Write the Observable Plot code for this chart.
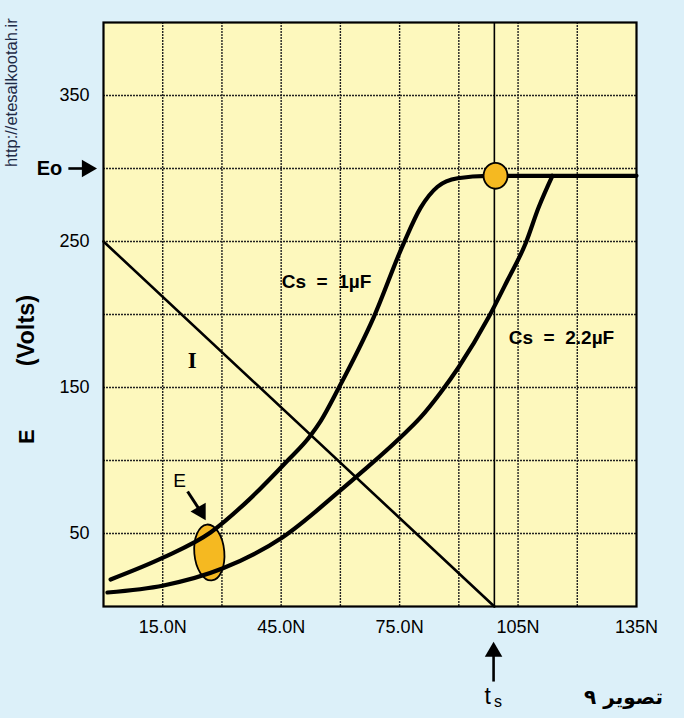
<!DOCTYPE html>
<html><head><meta charset="utf-8">
<script src="https://cdn.jsdelivr.net/npm/d3@7"></script>
<script src="https://cdn.jsdelivr.net/npm/@observablehq/plot@0.6"></script>
<style>
html,body{margin:0;padding:0;background:#dcf0f9;}
#chart svg{display:block;overflow:visible;}
</style></head><body><div id="chart"></div>
<script>
// ---- data ----
const xTicks = [15, 45, 75, 105, 135];
const xTickLabels = ["15.0N", "45.0N", "75.0N", "105N", "135N"];
const yTicks = [50, 150, 250, 350];
const xGrid = [15, 30, 45, 60, 75, 90, 105, 120];
const yGrid = [50, 100, 150, 200, 250, 300, 350];
const ts = 99;
const eo = 295;
const cs1X = [1.8, 15.2, 27.1, 36, 46.1, 52.4, 55, 59.5, 68.4, 76, 80.3, 84.6, 89.7, 97.3, 110, 135];
const cs1Y = [18.5, 33.6, 50.7, 71, 98.5, 117, 127, 149.3, 197.9, 248.6, 273, 287.5, 293.3, 295, 295, 295];
const cs2X = [1, 15.2, 30.1, 45.3, 60, 65.9, 75.2, 80.3, 85.4, 89.9, 97.5, 102.3, 106.9, 110.2, 113.7];
const cs2Y = [9.6, 14.4, 26, 47.3, 79.5, 93.2, 115.8, 129.5, 146.6, 163.7, 197.9, 223.3, 248.6, 273.3, 295];
const lineIX = [0, ts];
const lineIY = [250, 0];

const cs1 = cs1X.map((x, i) => ({x, y: cs1Y[i]}));
const cs2 = cs2X.map((x, i) => ({x, y: cs2Y[i]}));
const lineI = lineIX.map((x, i) => ({x, y: lineIY[i]}));

const YELLOW = "#fdf8bd", ORANGE = "#f5b921";
const SANS = "Liberation Sans, Arial, sans-serif";

function ellipseSymbol(ax, ay) {
  return {draw(ctx, size) {
    const r = Math.sqrt(size / Math.PI);
    const rx = r * ax, ry = r * ay, k = 0.5523;
    ctx.moveTo(rx, 0);
    ctx.bezierCurveTo(rx, ry * k, rx * k, ry, 0, ry);
    ctx.bezierCurveTo(-rx * k, ry, -rx, ry * k, -rx, 0);
    ctx.bezierCurveTo(-rx, -ry * k, -rx * k, -ry, 0, -ry);
    ctx.bezierCurveTo(rx * k, -ry, rx, -ry * k, rx, 0);
    ctx.closePath();
  }};
}

const chart = Plot.plot({
  width: 684, height: 718,
  marginLeft: 103, marginRight: 48, marginTop: 22, marginBottom: 112,
  x: {domain: [0, 135]},
  y: {domain: [0, 400]},
  style: {background: "transparent", fontFamily: SANS, color: "black", overflow: "visible"},
  marks: [
    Plot.frame({fill: YELLOW, stroke: null}),
    Plot.ruleX(xGrid, {stroke: "#222", strokeWidth: 1.4, strokeDasharray: "2,1"}),
    Plot.ruleY(yGrid, {stroke: "#222", strokeWidth: 1.4, strokeDasharray: "2,1"}),
    Plot.ruleX([ts], {stroke: "black", strokeWidth: 1.6}),
    Plot.line(lineI, {x: "x", y: "y", stroke: "black", strokeWidth: 2.6}),
    Plot.dot([{x: 26.8, y: 37}], {x: "x", y: "y", r: 15, symbol: ellipseSymbol(1, 1.87), rotate: -5, fill: ORANGE, stroke: "black", strokeWidth: 1.8}),
    Plot.line(cs1, {x: "x", y: "y", curve: "monotone-x", stroke: "black", strokeWidth: 4.2}),
    Plot.line(cs2, {x: "x", y: "y", curve: "monotone-x", stroke: "black", strokeWidth: 4.2}),
    Plot.dot([{x: 99.3, y: eo}], {x: "x", y: "y", r: 12, symbol: ellipseSymbol(1, 1.08), fill: ORANGE, stroke: "black", strokeWidth: 1.8}),
    Plot.frame({stroke: "black", strokeWidth: 2.2}),
    Plot.axisY(yTicks, {tickSize: 0, tickPadding: 14, fontSize: 18, fontFamily: SANS, label: null}),
    Plot.axisX(xTicks, {tickSize: 0, tickPadding: 14, fontSize: 18, fontFamily: SANS, label: null,
      tickFormat: d => xTickLabels[xTicks.indexOf(d)]}),
    // curve labels
    Plot.text(["Cs\u00a0 =\u00a0 1\u00b5F"], {x: 56.5, y: 222, fontSize: 19, fontWeight: "bold", fontFamily: SANS}),
    Plot.text(["Cs\u00a0 =\u00a0 2.2\u00b5F"], {x: 116, y: 184, fontSize: 19, fontWeight: "bold", fontFamily: SANS}),
    Plot.text(["I"], {x: 22.5, y: 168.5, fontSize: 23, fontWeight: "bold", fontFamily: "Liberation Serif, serif"}),
    Plot.text(["E"], {x: 19.3, y: 86.3, fontSize: 19, fontFamily: SANS}),
    // E arrow
    Plot.link([{x1: 21.3, y1: 78.8, x2: 24.6, y2: 65.1}], {x1: "x1", y1: "y1", x2: "x2", y2: "y2", stroke: "black", strokeWidth: 3}),
    Plot.dot([{x: 24.6, y: 65.1}], {x: "x", y: "y", symbol: "triangle", r: 6.5, rotate: 150, fill: "black", stroke: null}),
    // Eo arrow
    Plot.text(["Eo"], {x: -13.7, y: 300, fontSize: 20, fontWeight: "bold", fontFamily: SANS}),
    Plot.link([{x1: -8.9, y1: 300, x2: -4.2, y2: 300}], {x1: "x1", y1: "y1", x2: "x2", y2: "y2", stroke: "black", strokeWidth: 2.6}),
    Plot.dot([{x: -4.2, y: 300}], {x: "x", y: "y", symbol: "triangle", r: 6.5, rotate: 90, fill: "black", stroke: null}),
    // ts arrow
    Plot.link([{x1: ts - 0.2, y1: -51.4, x2: ts - 0.2, y2: -31}], {x1: "x1", y1: "y1", x2: "x2", y2: "y2", stroke: "black", strokeWidth: 2.6}),
    Plot.dot([{x: ts - 0.2, y: -31}], {x: "x", y: "y", symbol: "triangle", r: 6.5, rotate: 0, fill: "black", stroke: null}),
    Plot.text(["t"], {x: 97.3, y: -61.5, fontSize: 23, fontFamily: SANS}),
    Plot.text(["s"], {x: 99.9, y: -65, fontSize: 16, fontFamily: SANS}),
    // Persian caption
    Plot.text(["\u062a\u0635\u0648\u06cc\u0631 \u06f9"], {x: 131.7, y: -62.3, fontSize: 20, fontWeight: "bold", fontFamily: "DejaVu Sans, sans-serif"}),
    // y title
    Plot.text(["E"], {x: -19.5, y: 116.4, rotate: -90, fontSize: 22, fontWeight: "bold", fontFamily: SANS}),
    Plot.text(["(Volts)"], {x: -19.5, y: 189, rotate: -90, fontSize: 23.5, fontWeight: "bold", fontFamily: SANS}),
    // url
    Plot.text(["http://etesalkootah.ir"], {x: -23.3, y: 352, rotate: -90, fontSize: 16.5, fill: "#1f2b47", fontFamily: SANS})
  ]
});
document.getElementById("chart").appendChild(chart);
</script>
</body></html>
